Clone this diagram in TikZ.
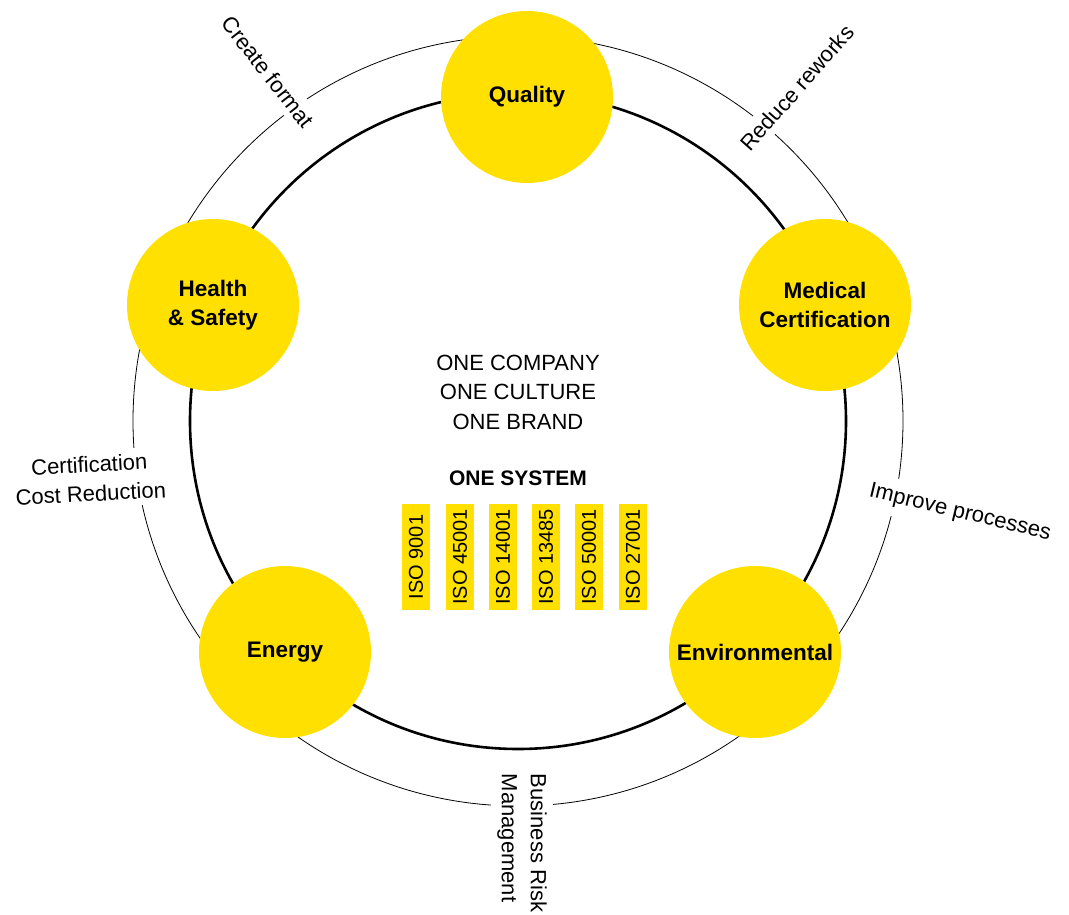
\documentclass[tikz,border=0pt]{standalone}
\usepackage{fontspec}
\setmainfont{Liberation Sans}
\usetikzlibrary{positioning}
\definecolor{isoyellow}{RGB}{255,224,0}
\tikzstyle{area}=[circle,fill=isoyellow,minimum size=172pt,inner sep=0pt,align=center,font=\fontsize{22.5}{29}\selectfont\bfseries]
\tikzstyle{benefit}=[fill=white,inner sep=6pt,align=center,font=\fontsize{22}{29}\selectfont]
\tikzstyle{isobox}=[fill=isoyellow,minimum width=106pt,minimum height=28pt,inner sep=0pt,rotate=90,font=\fontsize{20}{24}\selectfont]
\tikzstyle{motto}=[align=center,font=\fontsize{22}{29.5}\selectfont]

\begin{document}
\begin{tikzpicture}[x=1pt,y=-1pt]
\useasboundingbox (0,0) rectangle (1069,915);

%Rings
    \coordinate (centre) at (518,421);
    \draw[line width=0.8pt] (centre) circle[radius=385pt];

%Benefits on the outer ring
\node[benefit, rotate=-52] (create) at (268,72) {Create format};
\node[benefit, rotate=48.5] (reduce) at (797,88) {Reduce reworks};
\node[benefit, rotate=-13.5, inner sep=9pt] (improve) at (960,513) {Improve processes};
\node[benefit, rotate=-90, align=left] (risk) at (522,843) {Business Risk\\Management};
\node[benefit, rotate=3] (cost) at (90,479) {Certification\\Cost Reduction};

    \draw[line width=2.6pt] (centre) circle[radius=328pt];

%Standards
    \foreach \pos/\name/\label in {{(527,97)/quality/Quality}, {(825,305)/medical/Medical\\Certification}, {(755,652)/environmental/Environmental}, {(285,652)/energy/Energy}, {(213,305)/health/Health\\\& Safety}}
        \node[area] (\name) at \pos {\label};

%One system
\node[motto] (company) at (518,392) {ONE COMPANY\\ONE CULTURE\\ONE BRAND};
\node[font=\fontsize{21}{24}\selectfont\bfseries] (system) at (518,478) {ONE SYSTEM};

    \foreach \x/\name/\label in {416/isoA/ISO 9001, 460/isoB/ISO 45001, 503/isoC/ISO 14001, 546/isoD/ISO 13485, 589/isoE/ISO 50001, 633/isoF/ISO 27001}
        \node[isobox] (\name) at (\x,557) {\label};

\end{tikzpicture}
\end{document}
